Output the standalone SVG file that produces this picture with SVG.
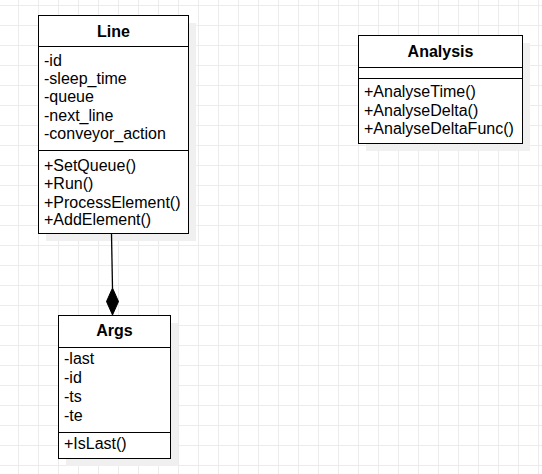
<svg xmlns="http://www.w3.org/2000/svg" width="542" height="474" viewBox="0 0 542 474">
<style>
.box{fill:#fff;stroke:#000;stroke-width:1}
.shadow{fill:#f0f0f0}
.sep{stroke:#000;stroke-width:1}
.t{font-family:"Liberation Sans",Arial,sans-serif;font-size:16px;fill:#000}
.h{font-family:"Liberation Sans",Arial,sans-serif;font-size:16px;font-weight:bold;fill:#000;text-anchor:middle}
.conn{stroke:#000;stroke-width:1.3;fill:none}
</style>
<defs>
<pattern id="grid" patternUnits="userSpaceOnUse" x="18" y="5" width="20" height="20">
<path d="M0 0.5H20M0.5 0V20" stroke="#ececec" stroke-width="1" fill="none"/>
</pattern>
</defs>
<rect width="542" height="474" fill="#fff"/>
<rect width="542" height="474" fill="url(#grid)"/>

<g id="Line">
<rect class="shadow" x="46" y="23" width="150" height="218"/>
<rect class="box" x="38.5" y="15.5" width="150" height="218"/>
<line class="sep" x1="38.5" y1="46.5" x2="188.5" y2="46.5"/>
<line class="sep" x1="38.5" y1="150.5" x2="188.5" y2="150.5"/>
<text class="h" x="113.5" y="36.5">Line</text>
<text class="t" x="44" y="65.5">-id</text>
<text class="t" x="44" y="83.5">-sleep_time</text>
<text class="t" x="44" y="102">-queue</text>
<text class="t" x="44" y="120.5">-next_line</text>
<text class="t" x="44" y="139">-conveyor_action</text>
<text class="t" x="44" y="170.5">+SetQueue()</text>
<text class="t" x="44" y="189">+Run()</text>
<text class="t" x="44" y="207.5">+ProcessElement()</text>
<text class="t" x="44" y="224.5">+AddElement()</text>
</g>

<g id="Args">
<rect class="shadow" x="66" y="323" width="112" height="143"/>
<rect class="box" x="58.5" y="315.5" width="112" height="143"/>
<line class="sep" x1="58.5" y1="347.5" x2="170.5" y2="347.5"/>
<line class="sep" x1="58.5" y1="432.5" x2="170.5" y2="432.5"/>
<text class="h" x="114.5" y="336">Args</text>
<text class="t" x="64" y="364">-last</text>
<text class="t" x="64" y="382.5">-id</text>
<text class="t" x="64" y="402">-ts</text>
<text class="t" x="64" y="420.5">-te</text>
<text class="t" x="64" y="449">+IsLast()</text>
</g>

<g id="Analysis">
<rect class="shadow" x="366" y="43" width="164" height="108"/>
<rect class="box" x="358.5" y="35.5" width="164" height="108"/>
<line class="sep" x1="358.5" y1="67.5" x2="522.5" y2="67.5"/>
<line class="sep" x1="358.5" y1="78.5" x2="522.5" y2="78.5"/>
<text class="h" x="440.5" y="56.5">Analysis</text>
<text class="t" x="364" y="96.5">+AnalyseTime()</text>
<text class="t" x="364" y="115.5">+AnalyseDelta()</text>
<text class="t" x="364" y="134">+AnalyseDeltaFunc()</text>
</g>

<g id="connectors">
<line class="conn" x1="111.5" y1="234" x2="112.5" y2="288"/>
<polygon points="112.5,288 118.5,301.5 112.5,315 106.5,301.5" fill="#000" stroke="#000" stroke-width="1"/>
</g>
</svg>
